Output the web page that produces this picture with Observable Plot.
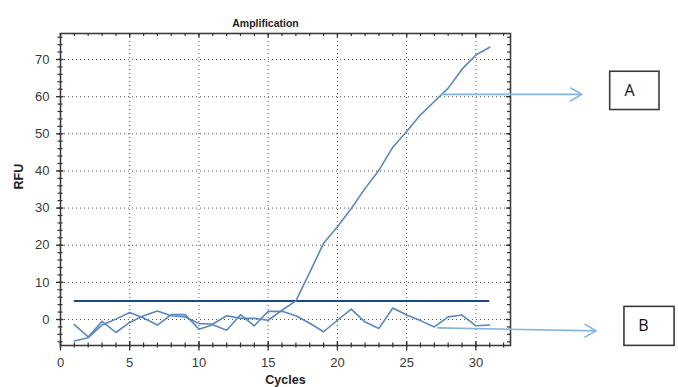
<!DOCTYPE html>
<html><head><meta charset="utf-8">
<script src="https://cdn.jsdelivr.net/npm/d3@7"></script>
<script src="https://cdn.jsdelivr.net/npm/@observablehq/plot@0.6"></script>
<style>body{margin:0;background:#fff}</style>
</head><body><div id="chart"></div>
<script>
// ---- data ----
const cycles = [1,2,3,4,5,6,7,8,9,10,11,12,13,14,15,16,17,18,19,20,21,22,23,24,25,26,27,28,29,30,31];
const wellA = [-1.4,-4.7,-0.5,-3.5,-0.8,1.0,2.3,1.0,0.7,-1.1,-1.2,1.0,0.3,0.3,-0.2,2.5,5.0,12.7,20.5,25.0,29.9,35.3,40.2,46.4,50.6,55.1,58.7,62.3,67.4,71.2,73.3];
const wellB = [-5.8,-4.9,-1.5,0.1,1.9,0.4,-1.5,1.3,1.3,-2.6,-1.4,-2.9,1.3,-1.7,2.2,2.2,1.0,-1.0,-3.3,-0.2,2.8,-0.7,-2.4,3.1,1.2,-0.3,-2.0,0.7,1.2,-1.7,-1.5];
const threshold = [{value: 5, from: 1, to: 31}];
const xTickLabels = [0,5,10,15,20,25,30];
const yTickLabels = [0,10,20,30,40,50,60,70];
const title = "Amplification";
const xLabel = "Cycles";
const yLabel = "RFU";
// annotation callouts (data coordinates)
const callouts = [
  {label: "A", ax1: 27.5, ay1: 60.6, ax2: 37.65, ay2: 60.6, bx1: 39.7, bx2: 43.26, by1: 56.4, by2: 66.7, tx: 41.1, ty: 61.5},
  {label: "B", ax1: 27.24, ay1: -2.26, ax2: 38.68, ay2: -3.07, bx1: 40.73, bx2: 44.35, by1: -7.1, by2: 3.4, tx: 42.1, ty: -1.6}
];

const rows = [];
cycles.forEach((c, i) => {
  rows.push({well: "A", cycle: c, rfu: wellA[i]});
  rows.push({well: "B", cycle: c, rfu: wellB[i]});
});

const xDom = [0, 32.5], yDom = [-7, 77];
const xMinor = d3.range(0, 33, 1);
const yMinor = d3.range(-6, 77, 2);
const tickColor = "#333";

const chart = Plot.plot({
  width: 678, height: 387,
  marginLeft: 60, marginRight: 168, marginTop: 33, marginBottom: 42,
  style: {fontFamily: "'Liberation Sans', Arial, sans-serif", fontSize: "13px", background: "white", color: "#333"},
  x: {domain: xDom},
  y: {domain: yDom},
  marks: [
    Plot.gridX(xTickLabels.filter(d => d > 0), {stroke: "#555", strokeOpacity: 1, strokeDasharray: "1,3", strokeWidth: 1}),
    Plot.gridY(yTickLabels, {stroke: "#555", strokeOpacity: 1, strokeDasharray: "1,3", strokeWidth: 1}),
    Plot.frame({stroke: "#3c3c3c", strokeWidth: 1.6}),
    // ticks bottom
    Plot.ruleX(xMinor, {x: d => d, y1: yDom[0], y2: yDom[0], insetTop: -2.5, insetBottom: -2.5, stroke: tickColor, strokeWidth: 1.2}),
    Plot.ruleX(xTickLabels, {x: d => d, y1: yDom[0], y2: yDom[0], insetTop: -4, insetBottom: -5.5, stroke: tickColor, strokeWidth: 1.3}),
    // ticks top
    Plot.ruleX(xMinor, {x: d => d, y1: yDom[1], y2: yDom[1], insetTop: 0, insetBottom: -3, stroke: tickColor, strokeWidth: 1.2}),
    Plot.ruleX(xTickLabels, {x: d => d, y1: yDom[1], y2: yDom[1], insetTop: 0, insetBottom: -4.5, stroke: tickColor, strokeWidth: 1.2}),
    // ticks left
    Plot.ruleY(yMinor, {y: d => d, x1: xDom[0], x2: xDom[0], insetLeft: -2.5, insetRight: -2.5, stroke: tickColor, strokeWidth: 1.2}),
    Plot.ruleY(yTickLabels, {y: d => d, x1: xDom[0], x2: xDom[0], insetLeft: -4, insetRight: -3.5, stroke: tickColor, strokeWidth: 1.3}),
    // ticks right
    Plot.ruleY(yMinor, {y: d => d, x1: xDom[1], x2: xDom[1], insetLeft: -3, insetRight: 0, stroke: tickColor, strokeWidth: 1.2}),
    Plot.ruleY(yTickLabels, {y: d => d, x1: xDom[1], x2: xDom[1], insetLeft: -4, insetRight: 0, stroke: tickColor, strokeWidth: 1.2}),
    Plot.axisX(xTickLabels, {tickSize: 0, tickPadding: 12, fontSize: 13, fill: "#3a3a3a", label: null}),
    Plot.axisY(yTickLabels, {tickSize: 0, tickPadding: 11, fontSize: 13, fill: "#3a3a3a", label: null}),
    // series
    Plot.ruleY(threshold, {y: "value", x1: "from", x2: "to", stroke: "#1d4a86", strokeWidth: 2}),
    Plot.line(rows, {x: "cycle", y: "rfu", z: "well", stroke: "#5b88bd", strokeWidth: 1.6}),
    // callouts
    Plot.arrow(callouts, {x1: "ax1", y1: "ay1", x2: "ax2", y2: "ay2", stroke: "#85b4e0", strokeWidth: 1.6, headLength: 12, bend: 0}),
    Plot.rect(callouts, {x1: "bx1", x2: "bx2", y1: "by1", y2: "by2", fill: "white", stroke: "#3a3a3a", strokeWidth: 1.6}),
    Plot.text(callouts, {x: "tx", y: "ty", text: "label", fontSize: 16, fill: "#111", fontFamily: "'Open Sans', sans-serif"}),
    // titles
    Plot.text([title], {text: d => d, frameAnchor: "top", dx: -20, dy: -14, fontWeight: "bold", fontSize: 10.5, fill: "#222"}),
    Plot.text([xLabel], {text: d => d, frameAnchor: "bottom", dy: 38, fontWeight: "bold", fontSize: 12.5, fill: "#222"}),
    Plot.text([yLabel], {text: d => d, frameAnchor: "left", dx: -42, rotate: -90, fontWeight: "bold", fontSize: 12.5, fill: "#222"})
  ]
});
document.getElementById("chart").appendChild(chart);
</script>
</body></html>
